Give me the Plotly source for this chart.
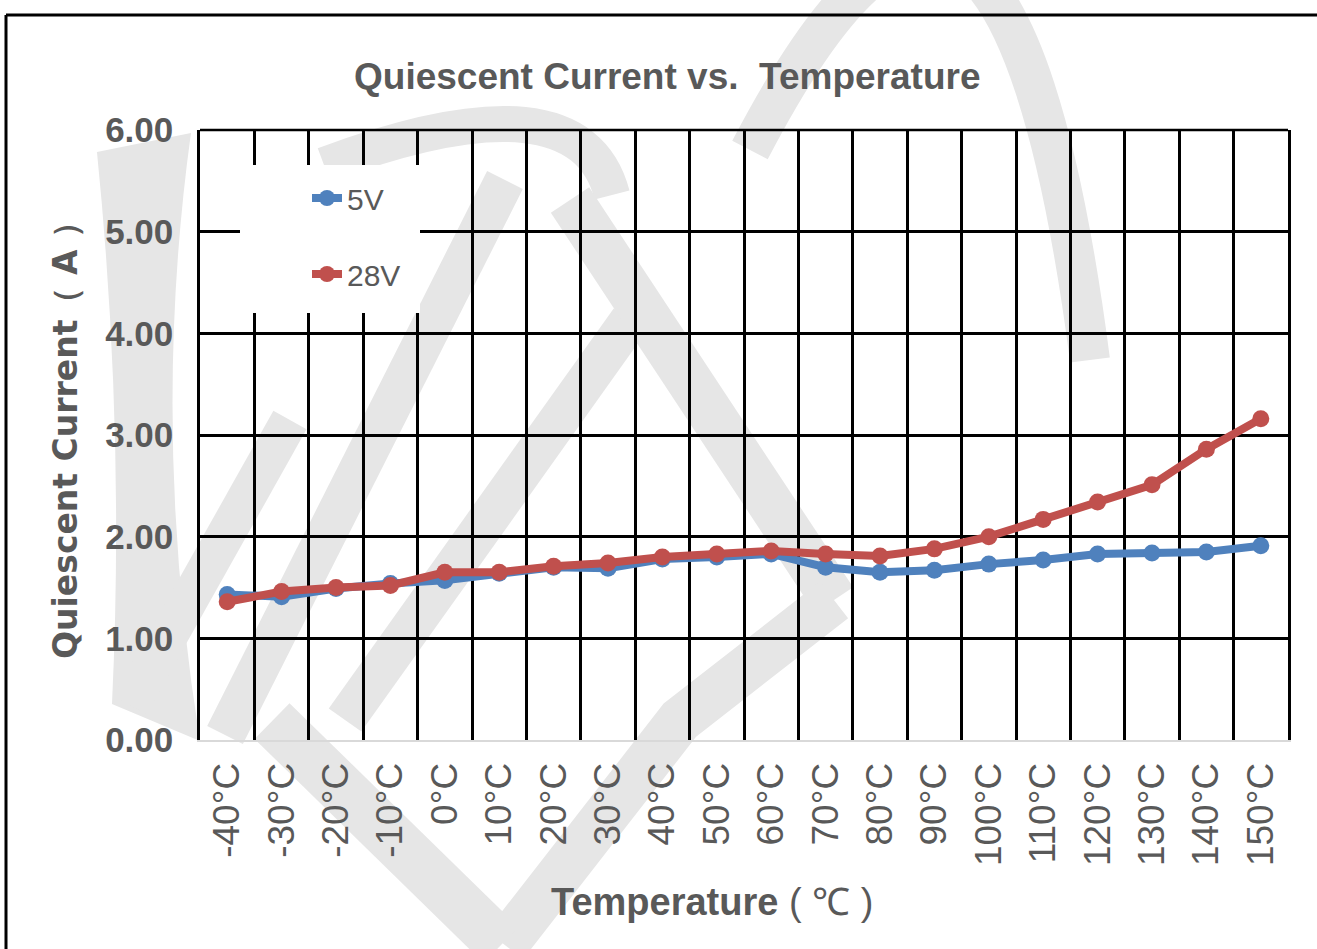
import plotly.graph_objects as go

# ---- data ----
temps = ["-40°C", "-30°C", "-20°C", "-10°C", "0°C", "10°C", "20°C", "30°C", "40°C", "50°C",
         "60°C", "70°C", "80°C", "90°C", "100°C", "110°C", "120°C", "130°C", "140°C", "150°C"]
i_5v = [1.43, 1.41, 1.49, 1.54, 1.57, 1.64, 1.70, 1.69, 1.78, 1.80,
        1.83, 1.70, 1.65, 1.67, 1.73, 1.77, 1.83, 1.84, 1.85, 1.91]
i_28v = [1.36, 1.46, 1.50, 1.52, 1.65, 1.65, 1.71, 1.74, 1.80, 1.83,
         1.86, 1.83, 1.81, 1.88, 2.00, 2.17, 2.34, 2.51, 2.86, 3.16]
y_ticks = [0, 1, 2, 3, 4, 5, 6]

# ---- layout geometry (pixels) ----
W, H = 1317, 949
L, R, T, B = 200, 1288, 130, 740
GRAY = "#595959"
WM = "#e6e6e6"
SANS = "Liberation Sans, Arial, sans-serif"


def px(x):
    return (x - L) / (R - L)


def py(y):
    return (B - y) / (B - T)


def P(x, y):
    return f"{px(x):.4f},{py(y):.4f}"


fig = go.Figure()
fig.add_trace(go.Scatter(x=temps, y=i_5v, name="5V", mode="lines+markers",
                         line=dict(color="#4F81BD", width=8),
                         marker=dict(size=17, color="#4F81BD"),
                         legendgroup="a"))
fig.add_trace(go.Scatter(x=temps, y=i_28v, name="28V", mode="lines+markers",
                         line=dict(color="#C0504D", width=8),
                         marker=dict(size=17, color="#C0504D"),
                         legendgroup="b"))

shapes = []
# watermark (decorative)
shapes.append(dict(type="path",
                   path="M " + P(97, 152) + " L " + P(191, 133) + " Q " + P(150, 430) + " " + P(200, 741)
                   + " L " + P(112, 704) + " Q " + P(125, 430) + " " + P(97, 152) + " Z",
                   xref="paper", yref="paper", fillcolor=WM, line=dict(width=0), layer="below"))
strokes = [
    ("M " + P(130, 705) + " L " + P(290, 420), 38),
    ("M " + P(225, 735) + " Q " + P(380, 430) + " " + P(505, 180), 40),
    ("M " + P(345, 720) + " L " + P(630, 320), 40),
    ("M " + P(324, 165) + " Q " + P(580, 70) + " " + P(612, 195), 36),
    ("M " + P(570, 200) + " L " + P(834, 600), 46),
    ("M " + P(834, 600) + " L " + P(680, 720) + " L " + P(505, 945), 46),
    ("M " + P(272, 721) + " L " + P(501, 945), 50),
    ("M " + P(750, 150) + " Q " + P(1000, -330) + " " + P(1090, 360), 40),
]
for path, w in strokes:
    shapes.append(dict(type="path", path=path, xref="paper", yref="paper",
                       line=dict(color=WM, width=w), layer="below"))

# top border of plot area
shapes.append(dict(type="line", xref="paper", yref="paper", x0=0, x1=1, y0=1, y1=1,
                   line=dict(color="black", width=2.5), layer="below"))
# white box behind legend (hides gridlines like the original)
shapes.append(dict(type="rect", xref="paper", yref="paper",
                   x0=px(240), x1=px(420), y0=py(313), y1=py(165),
                   fillcolor="white", line=dict(width=0), layer="above"))
# outer frame
shapes.append(dict(type="line", xref="paper", yref="paper",
                   x0=px(6), x1=px(1330), y0=py(15), y1=py(15),
                   line=dict(color="black", width=3)))
shapes.append(dict(type="line", xref="paper", yref="paper",
                   x0=px(6), x1=px(6), y0=py(15), y1=py(960),
                   line=dict(color="black", width=3)))

annotations = [
    dict(text="Quiescent Current vs.\u00a0\u00a0Temperature", xref="paper", yref="paper",
         x=px(667), y=py(76), xanchor="center", yanchor="middle", showarrow=False,
         font=dict(family=SANS, size=37, color=GRAY, weight="bold")),
    dict(text="<b>Temperature</b> ( ℃ )", xref="paper", yref="paper",
         x=px(712), y=py(902), xanchor="center", yanchor="middle", showarrow=False,
         font=dict(family=SANS, size=38, color=GRAY)),
    dict(text="Quiescent Current（ A ）", xref="paper", yref="paper",
         x=px(66), y=py(432), xanchor="center", yanchor="middle", showarrow=False,
         textangle=-90,
         font=dict(family="DejaVu Sans, sans-serif", size=33, color=GRAY, weight="bold")),
]

fig.update_layout(
    width=W, height=H,
    margin=dict(l=L, r=W - R, t=T, b=H - B, pad=0),
    paper_bgcolor="white",
    plot_bgcolor="rgba(0,0,0,0)",
    shapes=shapes,
    annotations=annotations,
    showlegend=True,
    legend=dict(x=px(307), y=py(172), xanchor="left", yanchor="top",
                bgcolor="rgba(0,0,0,0)", borderwidth=0,
                font=dict(family=SANS, size=30, color=GRAY),
                tracegroupgap=34, itemwidth=30),
)
fig.update_xaxes(
    type="category", categoryorder="array", categoryarray=temps,
    range=[-0.5, len(temps) - 0.5],
    tickson="boundaries", ticks="", showgrid=True, gridcolor="black", gridwidth=2.5,
    showline=True, linecolor="#d9d9d9", linewidth=2,
    tickangle=-90, ticklabelstandoff=6,
    tickfont=dict(family=SANS, size=37, color=GRAY),
    zeroline=False,
)
fig.update_yaxes(
    range=[0, 6], tickvals=y_ticks, tickformat=".2f",
    showgrid=True, gridcolor="black", gridwidth=2.5,
    zeroline=True, zerolinecolor="#d9d9d9", zerolinewidth=2,
    showline=True, linecolor="black", linewidth=2.5, mirror=True,
    ticks="", ticklabelstandoff=17,
    tickfont=dict(family=SANS, size=35, color=GRAY, weight="bold"),
)

fig.write_html("out.html", config={"displayModeBar": False},
               post_script="document.body.style.margin='0';document.body.style.overflow='hidden';")
